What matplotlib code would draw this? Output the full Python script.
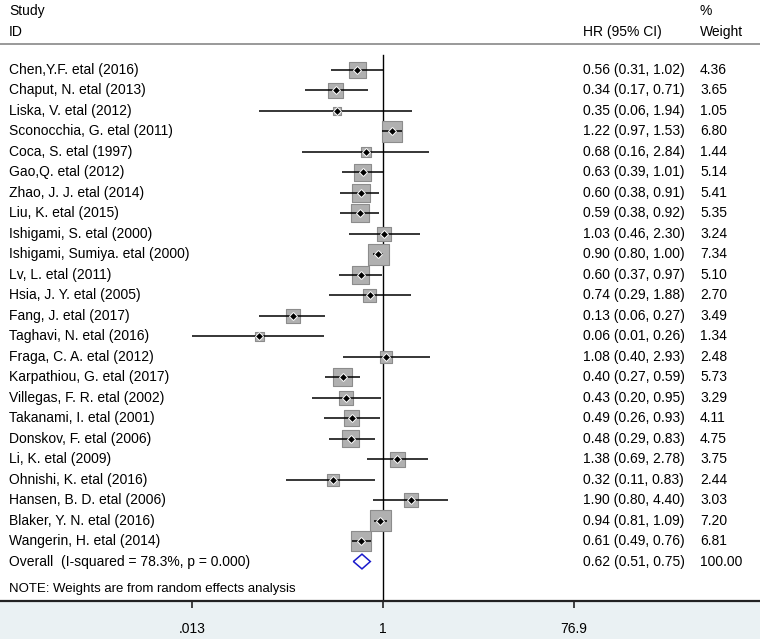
import matplotlib
matplotlib.use("Agg")
import matplotlib.pyplot as plt
import numpy as np
from matplotlib.transforms import blended_transform_factory

plt.rcParams['font.family'] = ['Liberation Sans', 'DejaVu Sans']

studies = ["Chen,Y.F. etal (2016)", "Chaput, N. etal (2013)", "Liska, V. etal (2012)",
           "Sconocchia, G. etal (2011)", "Coca, S. etal (1997)", "Gao,Q. etal (2012)",
           "Zhao, J. J. etal (2014)", "Liu, K. etal (2015)", "Ishigami, S. etal (2000)",
           "Ishigami, Sumiya. etal (2000)", "Lv, L. etal (2011)", "Hsia, J. Y. etal (2005)",
           "Fang, J. etal (2017)", "Taghavi, N. etal (2016)", "Fraga, C. A. etal (2012)",
           "Karpathiou, G. etal (2017)", "Villegas, F. R. etal (2002)", "Takanami, I. etal (2001)",
           "Donskov, F. etal (2006)", "Li, K. etal (2009)", "Ohnishi, K. etal (2016)",
           "Hansen, B. D. etal (2006)", "Blaker, Y. N. etal (2016)", "Wangerin, H. etal (2014)"]
hr = [0.56, 0.34, 0.35, 1.22, 0.68, 0.63, 0.60, 0.59, 1.03, 0.90, 0.60, 0.74,
      0.13, 0.06, 1.08, 0.40, 0.43, 0.49, 0.48, 1.38, 0.32, 1.90, 0.94, 0.61]
lo = [0.31, 0.17, 0.06, 0.97, 0.16, 0.39, 0.38, 0.38, 0.46, 0.80, 0.37, 0.29,
      0.06, 0.013, 0.40, 0.27, 0.20, 0.26, 0.29, 0.69, 0.11, 0.80, 0.81, 0.49]
hi = [1.02, 0.71, 1.94, 1.53, 2.84, 1.01, 0.91, 0.92, 2.30, 1.00, 0.97, 1.88,
      0.27, 0.26, 2.93, 0.59, 0.95, 0.93, 0.83, 2.78, 0.83, 4.40, 1.09, 0.76]
weight = [4.36, 3.65, 1.05, 6.80, 1.44, 5.14, 5.41, 5.35, 3.24, 7.34, 5.10, 2.70,
          3.49, 1.34, 2.48, 5.73, 3.29, 4.11, 4.75, 3.75, 2.44, 3.03, 7.20, 6.81]
overall_label = "Overall  (I-squared = 78.3%, p = 0.000)"
overall_hr, overall_lo, overall_hi, overall_w = 0.62, 0.51, 0.75, 100.00
xticks = [0.013, 1, 76.9]
xticklabels = [".013", "1", "76.9"]

W, H = 760, 639
fig = plt.figure(figsize=(W / 100, H / 100), dpi=100)
fig.patch.set_facecolor('#eaf1f3')

axis_px = 601
ax = fig.add_axes([0, (H - axis_px) / H, 1, axis_px / H])
ax.set_facecolor('white')
ax.set_xscale('log')
ppd = 101.3  # pixels per decade
x1 = 383
ax.set_xlim(10 ** (-x1 / ppd), 10 ** ((W - x1) / ppd))
row0, rstep = 70, 20.48
ax.set_ylim((axis_px - row0) / rstep, -row0 / rstep)

for s in ['top', 'left', 'right']:
    ax.spines[s].set_visible(False)
ax.spines['bottom'].set_color('#222222')
ax.spines['bottom'].set_linewidth(1.6)
ax.set_yticks([])
ax.set_xticks(xticks)
ax.set_xticklabels(xticklabels, fontsize=10)
ax.xaxis.set_minor_locator(matplotlib.ticker.NullLocator())
ax.tick_params(axis='x', direction='out', length=5, width=1.2, color='#222222', pad=10)

n = len(studies)
rows = np.arange(n)
tr = blended_transform_factory(ax.transAxes, ax.transData)
fs = 10

# reference line
ax.plot([1, 1], [-0.73, (axis_px - row0) / rstep], color='black', lw=1.0, zorder=1)

# header line
ax.plot([0, 1], [(44 - row0) / rstep] * 2, transform=tr, color='#888888', lw=1.2, clip_on=False)

side = [21 * np.sqrt(w / 7.34) * 0.72 for w in weight]
ax.scatter(hr, rows, marker='s', s=np.array(side) ** 2, facecolor='#b0b0b0',
           edgecolor='#8c8c8c', linewidths=0.8, zorder=1.5)
for i in range(n):
    ax.plot([lo[i], hi[i]], [i, i], color='black', lw=1.1, zorder=2.5, solid_capstyle='butt')
ax.plot(hr, rows, linestyle='none', marker='D', ms=4.2, mfc='black', mec='white', mew=0.7, zorder=3)

# overall diamond
oy = n
dh = 0.36
ax.fill([overall_lo, overall_hr, overall_hi, overall_hr, overall_lo],
        [oy, oy - dh, oy, oy + dh, oy], facecolor='white', edgecolor='#1a1acc', lw=1.1, zorder=3)

# text columns
xl, xhr, xw = 9 / W, 583 / W, 700 / W
ax.text(xl, (11 - row0) / rstep, "Study", transform=tr, fontsize=fs, va='center', ha='left')
ax.text(xl, (32 - row0) / rstep, "ID", transform=tr, fontsize=fs, va='center', ha='left')
ax.text(xhr, (32 - row0) / rstep, "HR (95% CI)", transform=tr, fontsize=fs, va='center', ha='left')
ax.text(xw, (11 - row0) / rstep, "%", transform=tr, fontsize=fs, va='center', ha='left')
ax.text(xw, (32 - row0) / rstep, "Weight", transform=tr, fontsize=fs, va='center', ha='left')

for i in range(n):
    ax.text(xl, i, studies[i], transform=tr, fontsize=fs, va='center', ha='left')
    ax.text(xhr, i, f"{hr[i]:.2f} ({lo[i]:.2f}, {hi[i]:.2f})", transform=tr, fontsize=fs,
            va='center', ha='left')
    ax.text(xw, i, f"{weight[i]:.2f}", transform=tr, fontsize=fs, va='center', ha='left')

ax.text(xl, oy, overall_label, transform=tr, fontsize=fs, va='center', ha='left')
ax.text(xhr, oy, f"{overall_hr:.2f} ({overall_lo:.2f}, {overall_hi:.2f})", transform=tr,
        fontsize=fs, va='center', ha='left')
ax.text(xw, oy, f"{overall_w:.2f}", transform=tr, fontsize=fs, va='center', ha='left')
ax.text(xl, (589 - row0) / rstep, "NOTE: Weights are from random effects analysis",
        transform=tr, fontsize=9.5, va='center', ha='left')

fig.savefig("out.png", dpi=100, facecolor=fig.get_facecolor())
